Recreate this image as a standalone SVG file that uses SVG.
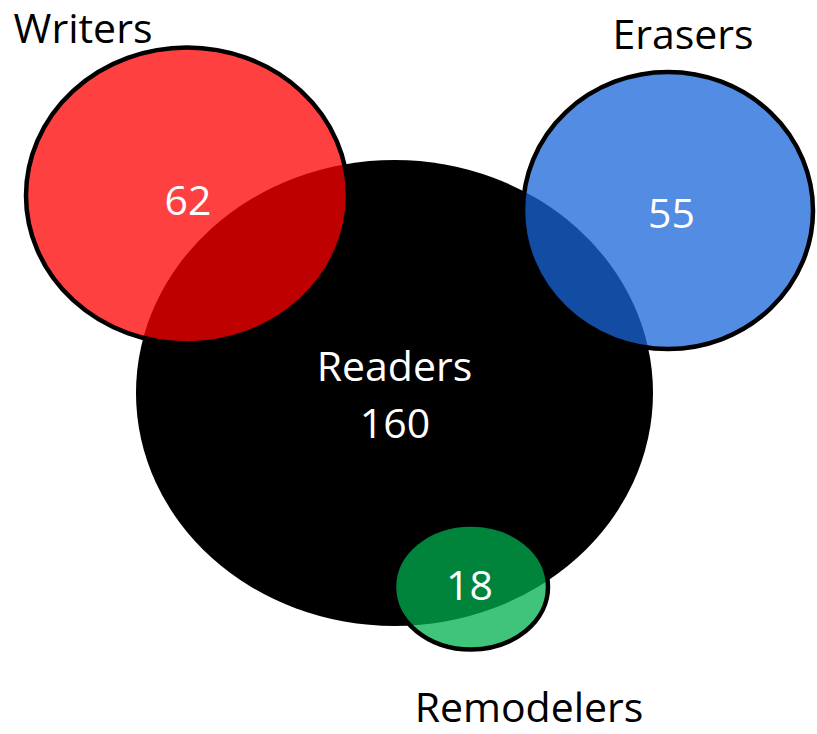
<svg xmlns="http://www.w3.org/2000/svg" width="817" height="734" viewBox="0 0 817 734">
<style>
.lbl{font-family:"Open Sans","Liberation Sans",sans-serif;font-size:41px;fill:#000;text-anchor:middle}
.num{font-family:"Open Sans","Liberation Sans",sans-serif;font-size:41px;fill:#fff;text-anchor:middle}
.set{stroke:#000;stroke-width:4.5}
</style>
<rect width="817" height="734" fill="#fff"/>
<g id="readers">
<ellipse cx="394.5" cy="393" rx="258.5" ry="233" fill="#000"/>
<text class="num" x="394.5" y="381">Readers</text>
<text class="num" x="395" y="438">160</text>
</g>
<g id="writers">
<ellipse class="set" cx="187" cy="195.5" rx="161" ry="148" fill="#FF0000" fill-opacity="0.75"/>
<text class="num" x="188" y="215">62</text>
<text class="lbl" x="83" y="43">Writers</text>
</g>
<g id="erasers">
<ellipse class="set" cx="668" cy="210.5" rx="145" ry="138.5" fill="#1A66DA" fill-opacity="0.75"/>
<text class="num" x="671.5" y="228">55</text>
<text class="lbl" x="683" y="49">Erasers</text>
</g>
<g id="remodelers">
<ellipse class="set" cx="471" cy="587" rx="77" ry="62.5" fill="#00B050" fill-opacity="0.75"/>
<text class="num" x="469.5" y="600">18</text>
<text class="lbl" x="529" y="722">Remodelers</text>
</g>
<g id="connectors"></g>
</svg>
